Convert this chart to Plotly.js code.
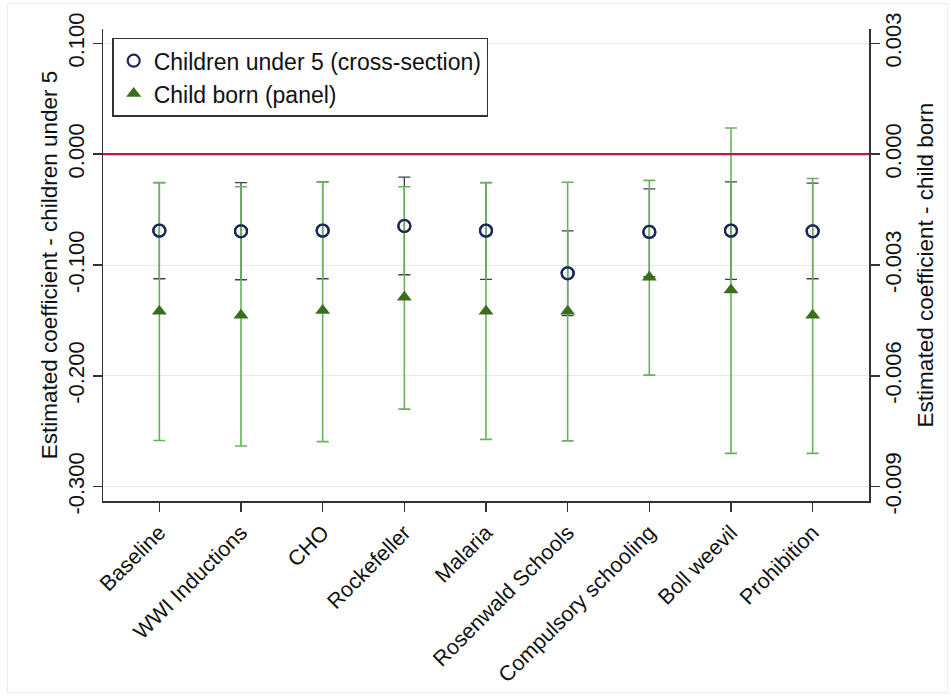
<!DOCTYPE html>
<html>
<head>
<meta charset="utf-8">
<script src="https://cdn.plot.ly/plotly-3.0.1.min.js"></script>
<style>
  html, body { margin: 0; padding: 0; background: #ffffff; }
  #chart { width: 951px; height: 696px; }
</style>
</head>
<body>
<div id="chart"></div>
<script>
// Robustness checks: estimated coefficients with 95% confidence intervals
const categories = ['Baseline', 'WWI Inductions', 'CHO', 'Rockefeller', 'Malaria',
  'Rosenwald Schools', 'Compulsory schooling', 'Boll weevil', 'Prohibition'];

// Children under 5 (cross-section), left axis
const under5Coef = [-0.0690, -0.0696, -0.0690, -0.0648, -0.0690, -0.1075, -0.0702, -0.0690, -0.0696];
const under5Hi   = [-0.0257, -0.0257, -0.0250, -0.0208, -0.0257, -0.0693, -0.0313, -0.0250, -0.0262];
const under5Lo   = [-0.1124, -0.1133, -0.1124, -0.1088, -0.1129, -0.1457, -0.1106, -0.1129, -0.1124];

// Child born (panel), right axis
const bornCoef = [-0.00425, -0.00436, -0.00423, -0.00387, -0.00425, -0.00425, -0.00333, -0.00368, -0.00436];
const bornHi   = [-0.00077, -0.00088, -0.00075, -0.00088, -0.00077, -0.00076, -0.00071, 0.00071, -0.00066];
const bornLo   = [-0.00775, -0.00790, -0.00778, -0.00690, -0.00772, -0.00776, -0.00598, -0.00810, -0.00810];

// Axis ticks
const leftTickVals  = [0.1, 0.0, -0.1, -0.2, -0.3];
const leftTickText  = ['0.100', '0.000', '-0.100', '-0.200', '-0.300'];
const rightTickVals = [0.003, 0.0, -0.003, -0.006, -0.009];
const rightTickText = ['0.003', '0.000', '-0.003', '-0.006', '-0.009'];

const leftRange  = [-0.3129, 0.1129];
const rightRange = [-0.009388, 0.003388];

const FONT = 'Liberation Sans, Arial, Helvetica, sans-serif';
const NAVY = '#1c2657';
const GREEN_MARK = '#3b6e1c';
const GREEN_BAR = '#68b35a';
const CAP_DARK = '#3c3f4f';

const diff = (a, b) => a.map((v, i) => v - b[i]);

const under5 = {
  type: 'scatter', mode: 'markers', name: 'Children under 5 (cross-section)',
  x: categories, y: under5Coef, xaxis: 'x', yaxis: 'y',
  marker: { symbol: 'circle-open', size: 12, color: NAVY, line: { width: 2.2, color: NAVY } },
  error_y: {
    type: 'data', symmetric: false,
    array: diff(under5Hi, under5Coef), arrayminus: diff(under5Coef, under5Lo),
    color: CAP_DARK, thickness: 1.3, width: 6
  },
  cliponaxis: false
};

const born = {
  type: 'scatter', mode: 'markers', name: 'Child born (panel)',
  x: categories, y: bornCoef, xaxis: 'x', yaxis: 'y2',
  marker: { symbol: 'triangle-up', size: 13, color: GREEN_MARK, line: { width: 0 } },
  error_y: {
    type: 'data', symmetric: false,
    array: diff(bornHi, bornCoef), arrayminus: diff(bornCoef, bornLo),
    color: GREEN_BAR, thickness: 1.6, width: 6
  },
  cliponaxis: false
};

// circles redrawn above the panel bars
const under5Top = {
  type: 'scatter', mode: 'markers', showlegend: false, hoverinfo: 'skip',
  x: categories, y: under5Coef, xaxis: 'x', yaxis: 'y3',
  marker: { symbol: 'circle-open', size: 12, color: NAVY, line: { width: 2.2, color: NAVY } },
  cliponaxis: false
};

const tickFont = { family: FONT, size: 22, color: '#111111' };

const layout = {
  width: 951, height: 696,
  margin: { l: 103, r: 82, t: 29, b: 195 },
  paper_bgcolor: '#ffffff', plot_bgcolor: '#ffffff',
  font: { family: FONT, size: 22, color: '#111111' },
  showlegend: true,
  legend: {
    x: 0.012, y: 0.9815, xanchor: 'left', yanchor: 'top',
    bgcolor: '#ffffff', bordercolor: '#333333', borderwidth: 1.5,
    font: { family: FONT, size: 23, color: '#111111' },
    itemwidth: 30, tracegroupgap: 0
  },
  xaxis: {
    type: 'category', range: [-0.69, 8.69],
    showline: true, linecolor: '#333333', linewidth: 1.5, mirror: false,
    ticks: 'outside', ticklen: 9, tickwidth: 1.5, tickcolor: '#333333',
    tickangle: -45, tickfont: { family: FONT, size: 21.5, color: '#111111' },
    showgrid: false, zeroline: false
  },
  yaxis: {
    range: leftRange, tickvals: leftTickVals, ticktext: leftTickText,
    showline: true, linecolor: '#333333', linewidth: 1.5,
    ticks: 'outside', ticklen: 9, tickwidth: 1.5, tickcolor: '#333333',
    tickangle: -90, tickfont: tickFont,
    showgrid: true, gridcolor: '#e9e9e9', gridwidth: 1,
    zeroline: false,
    title: { text: 'Estimated coefficient - children under 5', font: { family: FONT, size: 22.5, color: '#111111' }, standoff: 0 }
  },
  yaxis2: {
    range: rightRange, tickvals: rightTickVals, ticktext: rightTickText,
    overlaying: 'y', side: 'right',
    showline: true, linecolor: '#333333', linewidth: 1.5,
    ticks: 'outside', ticklen: 9, tickwidth: 1.5, tickcolor: '#333333',
    tickangle: -90, tickfont: tickFont, ticklabelstandoff: -5,
    showgrid: false, zeroline: false,
    title: { text: 'Estimated coefficient - child born', font: { family: FONT, size: 22.5, color: '#111111' }, standoff: 12 }
  },
  yaxis3: {
    range: leftRange, overlaying: 'y', visible: false, showgrid: false, zeroline: false
  },
  shapes: [
    { type: 'line', xref: 'paper', x0: 0, x1: 1, yref: 'y', y0: 0, y1: 0,
      line: { color: '#c4173f', width: 2.2 }, layer: 'above' },
    { type: 'rect', xref: 'paper', yref: 'paper',
      x0: -0.1248, x1: 1.1027, y0: -0.406, y1: 1.0537,
      line: { color: '#ececec', width: 1 }, fillcolor: 'rgba(0,0,0,0)', layer: 'below' }
  ]
};

Plotly.newPlot('chart', [under5, born, under5Top], layout, { displayModeBar: false, staticPlot: true });
</script>
</body>
</html>
